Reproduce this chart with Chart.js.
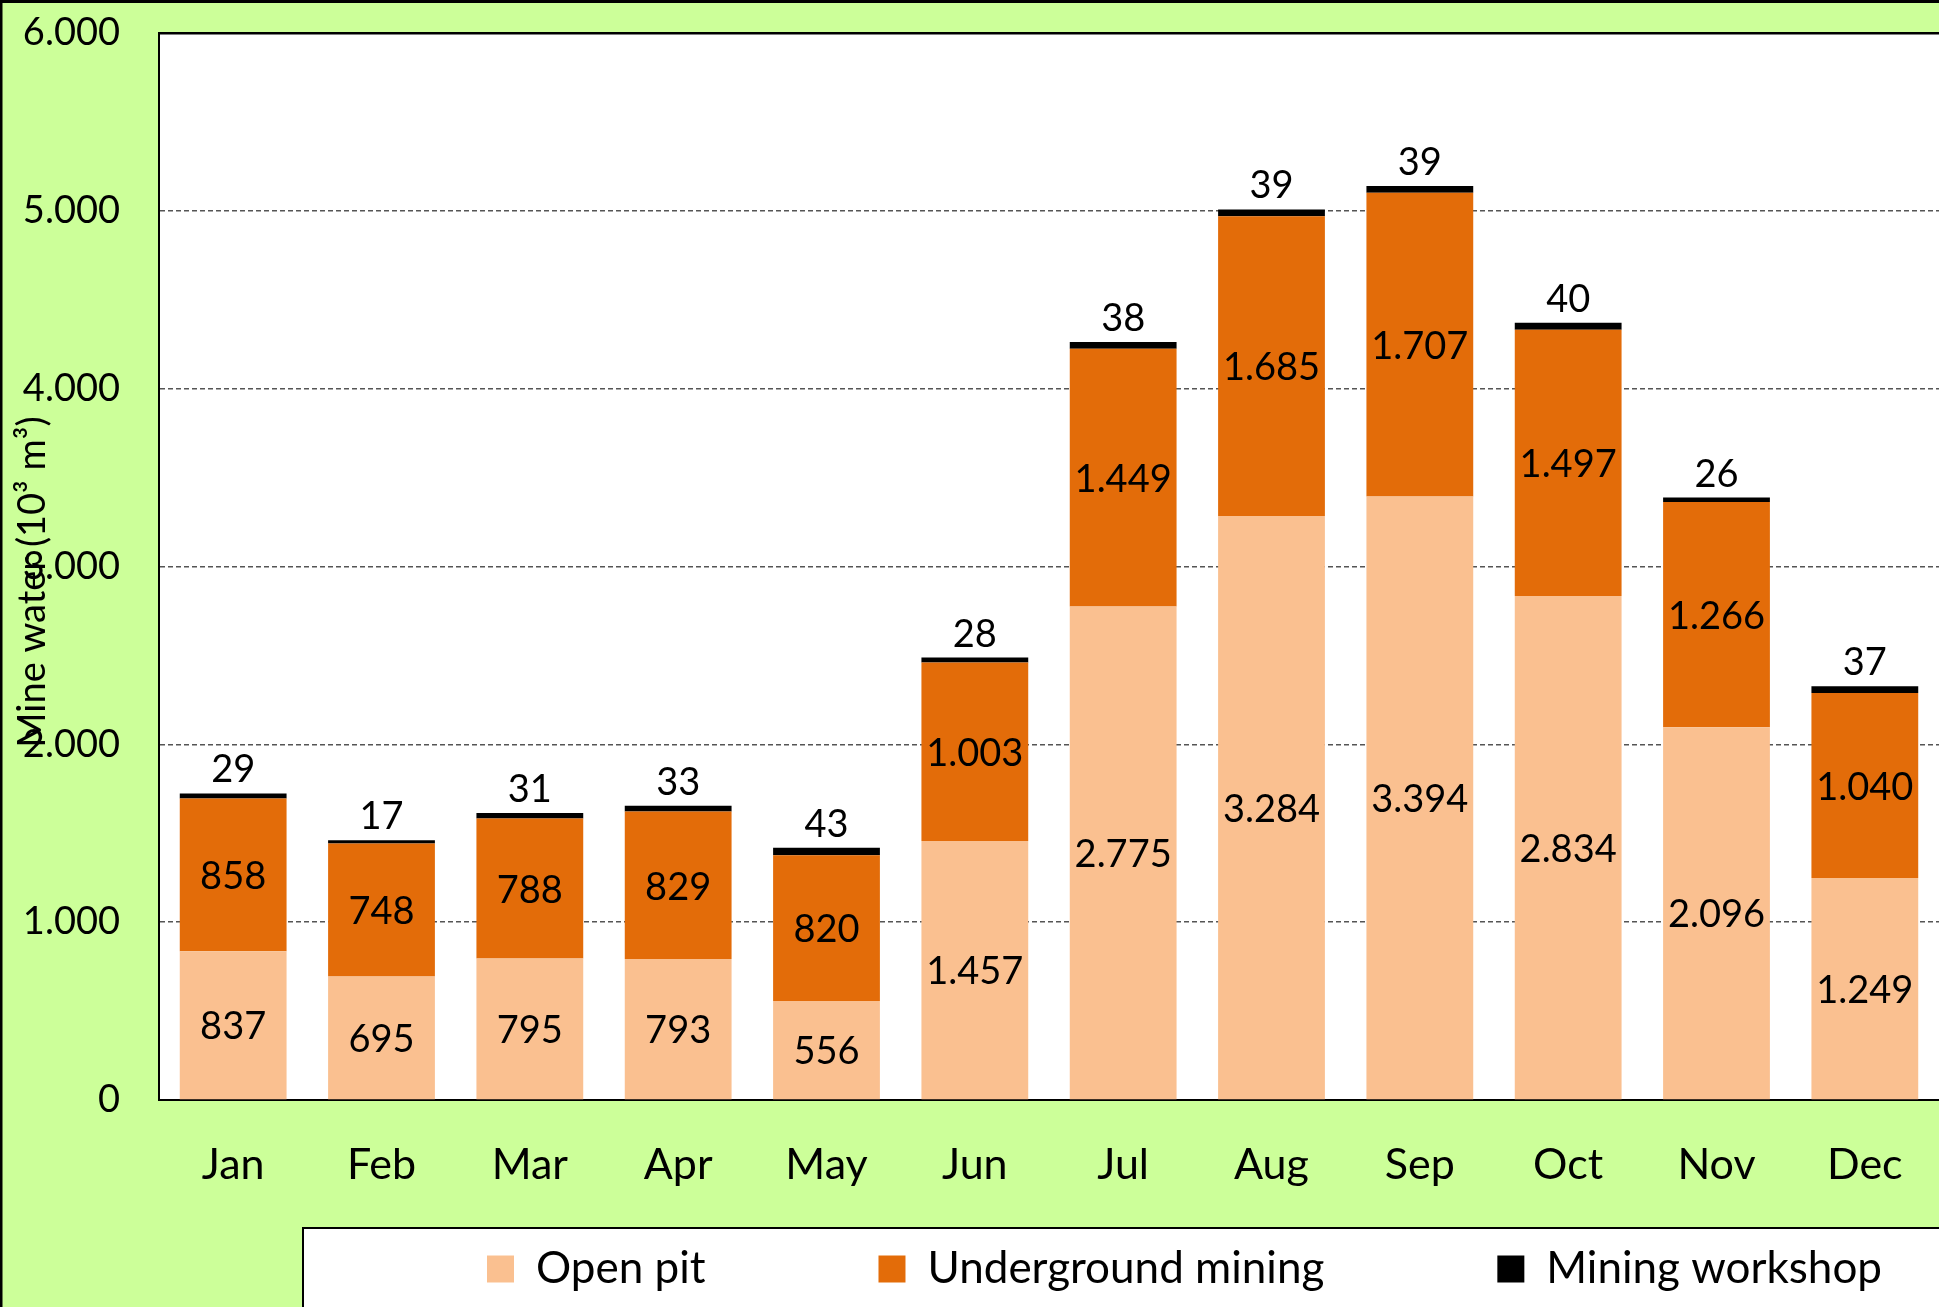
<!DOCTYPE html>
<html>
<head>
<meta charset="utf-8">
<script src="https://cdn.jsdelivr.net/npm/chart.js@4.4.1/dist/chart.umd.min.js"></script>
<style>
html,body{margin:0;padding:0;overflow:hidden;background:#CCFF99}
canvas{display:block}
</style>
</head>
<body>
<canvas id="c" width="1939" height="1307"></canvas>
<script>
const categories = ['Jan','Feb','Mar','Apr','May','Jun','Jul','Aug','Sep','Oct','Nov','Dec'];
const openPit = [837,695,795,793,556,1457,2775,3284,3394,2834,2096,1249];
const underground = [858,748,788,829,820,1003,1449,1685,1707,1497,1266,1040];
const workshop = [29,17,31,33,43,28,38,39,39,40,26,37];
const seriesNames = ['Open pit','Underground mining','Mining workshop'];
const yTicks = [0,1000,2000,3000,4000,5000,6000];
const yTitle = 'Mine water (10³ m³)';

const fmt = v => String(v).replace(/\B(?=(\d{3})+(?!\d))/g, '.');

Chart.defaults.font.family = 'Lato';
Chart.defaults.color = '#000';

const decor = {
  id: 'decor',
  afterLayout(chart) {
    const lg = chart.legend;
    if (!lg) return;
    const pad = lg.options.labels.padding;
    lg.left = 487 - pad;
    lg.right = 2600;
    lg.top = 1247 - pad;
    lg.bottom = 1307;
    lg.width = lg.right - lg.left;
    lg.height = lg.bottom - lg.top;
  },
  beforeDraw(chart) {
    const {ctx, chartArea: a, width, height} = chart;
    ctx.save();
    ctx.fillStyle = '#CCFF99';
    ctx.fillRect(0, 0, width, height);
    ctx.fillStyle = '#FFFFFF';
    ctx.fillRect(a.left, a.top, a.right - a.left, a.bottom - a.top);
    // legend box
    ctx.fillRect(302, 1227, width, height);
    ctx.strokeStyle = '#000';
    ctx.lineWidth = 2;
    ctx.strokeRect(303, 1228, width + 10, height);
    // outer border
    ctx.lineWidth = 3;
    ctx.beginPath();
    ctx.moveTo(1, height + 5);
    ctx.lineTo(1, 1.5);
    ctx.lineTo(width + 5, 1.5);
    ctx.stroke();
    ctx.restore();
  },
  afterDraw(chart) {
    const {ctx} = chart;
    ctx.save();
    ctx.translate(33, 582);
    ctx.rotate(-Math.PI / 2);
    ctx.fillStyle = '#000';
    ctx.font = '38px Lato';
    ctx.textAlign = 'center';
    ctx.textBaseline = 'middle';
    ctx.fillText(yTitle, 0, 0);
    ctx.restore();
  },
  afterDatasetsDraw(chart) {
    const {ctx} = chart;
    ctx.save();
    ctx.fillStyle = '#000';
    ctx.font = '38px Lato';
    ctx.textAlign = 'center';
    [0, 1].forEach(di => {
      const meta = chart.getDatasetMeta(di);
      const vals = chart.data.datasets[di].data;
      ctx.textBaseline = 'middle';
      meta.data.forEach((el, i) => {
        const p = el.getProps(['x', 'y', 'base'], true);
        ctx.fillText(fmt(vals[i]), p.x, (p.y + p.base) / 2 + 2);
      });
    });
    const meta2 = chart.getDatasetMeta(2);
    const vals2 = chart.data.datasets[2].data;
    ctx.textBaseline = 'alphabetic';
    meta2.data.forEach((el, i) => {
      const p = el.getProps(['x', 'y'], true);
      ctx.fillText(fmt(vals2[i]), p.x, p.y - 11);
    });
    ctx.restore();
  }
};

new Chart(document.getElementById('c'), {
  type: 'bar',
  data: {
    labels: categories,
    datasets: [
      {label: seriesNames[0], data: openPit, backgroundColor: '#FAC090', borderWidth: 0},
      {label: seriesNames[1], data: underground, backgroundColor: '#E36C09', borderWidth: 0},
      {label: seriesNames[2], data: workshop, backgroundColor: '#000000', borderWidth: 0}
    ]
  },
  options: {
    responsive: false,
    animation: false,
    devicePixelRatio: 1,
    layout: {padding: {left: 0, top: 33, right: 0, bottom: 0}},
    datasets: {bar: {categoryPercentage: 1, barPercentage: 0.72}},
    scales: {
      x: {
        stacked: true,
        grid: {display: false, drawTicks: false},
        border: {display: true, color: '#000', width: 2},
        ticks: {font: {size: 43}, padding: 39, color: '#000'},
        afterFit(axis) { axis.height = 127; axis.paddingLeft = 0; axis.paddingRight = 0; }
      },
      y: {
        stacked: true,
        min: yTicks[0],
        max: yTicks[yTicks.length - 1],
        grid: {
          drawTicks: false,
          color: ctx => ctx.tick && ctx.tick.value === yTicks[yTicks.length - 1] ? '#000' : (ctx.tick && ctx.tick.value === 0 ? 'rgba(0,0,0,0)' : '#555555'),
          lineWidth: ctx => ctx.tick && ctx.tick.value === yTicks[yTicks.length - 1] ? 2.5 : 1.6
        },
        border: {
          display: true, color: '#000', width: 2,
          dash: ctx => ctx.tick && ctx.tick.value === yTicks[yTicks.length - 1] ? [] : [5, 3]
        },
        ticks: {
          stepSize: yTicks[1] - yTicks[0],
          font: {size: 38},
          padding: 39,
          color: '#000',
          callback: v => fmt(v)
        },
        title: {display: false},
        afterFit(axis) { axis.width = 159; axis.paddingTop = 0; axis.paddingBottom = 0; }
      }
    },
    plugins: {
      legend: {
        position: 'bottom',
        align: 'start',
        maxHeight: 80,
        labels: {
          boxWidth: 27,
          boxHeight: 27,
          padding: 173,
          color: '#000',
          font: {size: 44}
        }
      },
      tooltip: {enabled: false}
    }
  },
  plugins: [decor]
});
</script>
</body>
</html>
